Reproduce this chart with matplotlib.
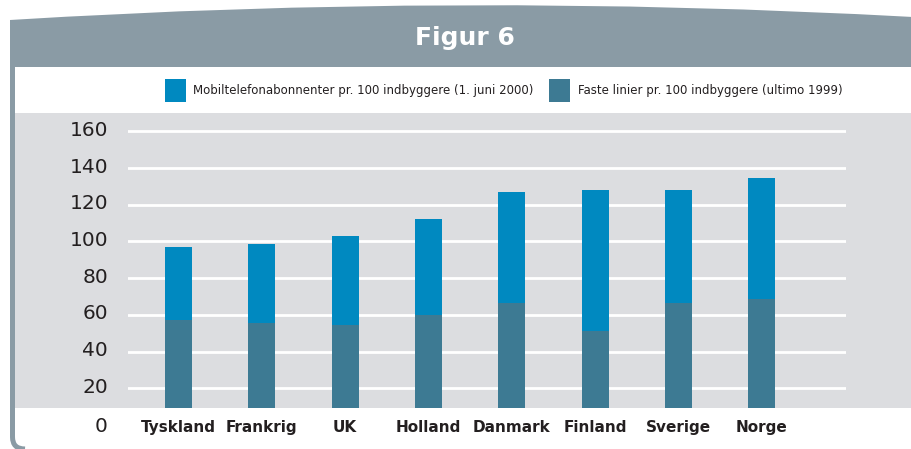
import matplotlib
matplotlib.use("Agg")
import matplotlib.pyplot as plt
from matplotlib.patches import Rectangle, PathPatch
from matplotlib.path import Path
from matplotlib.transforms import ScaledTranslation
from matplotlib import font_manager
import numpy as np

countries = ["Tyskland", "Frankrig", "UK", "Holland", "Danmark", "Finland", "Sverige", "Norge"]
faste = [57.3, 55.5, 54.4, 60.0, 66.4, 51.3, 66.4, 68.6]
mobil = [39.8, 43.2, 48.7, 52.4, 60.7, 76.9, 61.8, 66.1]
yticks = [20, 40, 60, 80, 100, 120, 140, 160]
title = "Figur 6"
legend_labels = ["Mobiltelefonabonnenter pr. 100 indbyggere (1. juni 2000)",
                 "Faste linier pr. 100 indbyggere (ultimo 1999)"]

names = {f.name for f in font_manager.fontManager.ttflist}
has_cond = "DejaVu Sans Condensed" in names

C_MOB = "#0089c0"
C_FAST = "#3d7a93"
C_HEAD = "#8a9ba5"
C_BG = "#dcdde0"
C_TXT = "#231f20"
NARROW = ["DejaVu Sans Condensed", "DejaVu Sans"]

W, H = 911, 449
fig = plt.figure(figsize=(W / 100, H / 100), dpi=100)
fig.patch.set_facecolor("white")

bg = fig.add_axes([0, 0, 1, 1])
bg.set_xlim(0, W)
bg.set_ylim(H, 0)
bg.axis("off")

bg.add_patch(Rectangle((15, 113), W - 15, 295, color=C_BG, lw=0))
hp = Path([(10, 67), (10, 20), (460, -8), (W + 2, 17), (W + 2, 67), (10, 67)],
          [Path.MOVETO, Path.LINETO, Path.CURVE3, Path.CURVE3, Path.LINETO, Path.CLOSEPOLY])
bg.add_patch(PathPatch(hp, facecolor=C_HEAD, edgecolor="none"))
bp = Path([(12.5, 62), (12.5, 437), (12.5, 449), (25, 449)],
          [Path.MOVETO, Path.LINETO, Path.CURVE3, Path.CURVE3])
bg.add_patch(PathPatch(bp, facecolor="none", edgecolor=C_HEAD, lw=3.6))

bg.text(465, 38.5, title, color="white", fontsize=20 if has_cond else 18, fontweight="bold",
        family=NARROW, ha="center", va="center")

lfs = 9.3 if has_cond else 8.5
bg.add_patch(Rectangle((165, 79), 21, 23, color=C_MOB, lw=0))
bg.text(193, 90.5, legend_labels[0], fontsize=lfs, family=NARROW, color=C_TXT,
        ha="left", va="center")
bg.add_patch(Rectangle((549, 79), 21, 23, color=C_FAST, lw=0))
bg.text(578, 90.5, legend_labels[1], fontsize=lfs, family=NARROW, color=C_TXT,
        ha="left", va="center")

ax = fig.add_axes([128 / W, (H - 408) / H, 718 / W, 295 / H])
ax.set_facecolor("none")
x = np.arange(len(countries))
ax.bar(x, faste, width=0.324, color=C_FAST, zorder=3)
ax.bar(x, mobil, bottom=faste, width=0.324, color=C_MOB, zorder=3)
ax.set_xlim(-0.606, 8.01)
ax.set_ylim(9.27, 170.0)
ax.set_yticks(yticks)
ax.set_yticklabels([str(v) for v in yticks])
ax.yaxis.grid(True, color="white", lw=2, zorder=1)
ax.set_axisbelow(True)
for s in ax.spines.values():
    s.set_visible(False)
ax.tick_params(axis="y", length=0, pad=14.4, labelsize=14.5, labelcolor=C_TXT)
up = ScaledTranslation(0, 3 / 100, fig.dpi_scale_trans)
for lab in ax.get_yticklabels():
    lab.set_transform(lab.get_transform() + up)
ax.set_xticks(x)
ax.set_xticklabels(countries, fontsize=12.5 if has_cond else 11, fontweight="bold",
                   family=NARROW, color=C_TXT)
ax.tick_params(axis="x", length=0, pad=8.5)
down = ScaledTranslation(0, -1.5 / 100, fig.dpi_scale_trans)
ax.text(-0.0279, 0, "0", transform=ax.get_yaxis_transform() + down, ha="right", va="center",
        fontsize=14.5, color=C_TXT, clip_on=False)

fig.savefig("out.png", dpi=100)
